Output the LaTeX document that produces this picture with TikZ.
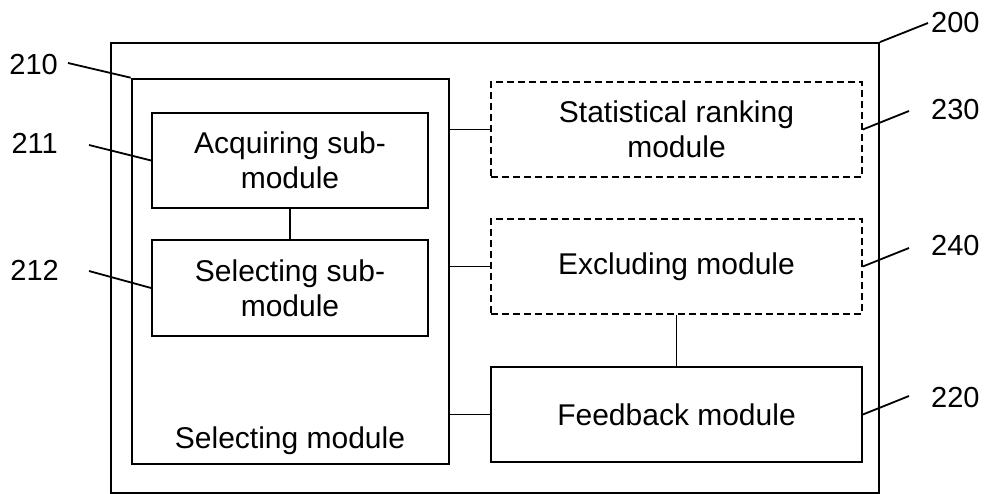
\documentclass[tikz,border=0pt]{standalone}
\usepackage{fontspec}
\setmainfont{Liberation Sans}
\begin{document}
\begin{tikzpicture}[x=1pt,y=-1pt,
  box/.style={draw,line width=1.8pt,rectangle,inner sep=0pt,align=center,
    font=\fontsize{30}{35}\selectfont},
  dbox/.style={box,line width=1.6pt,dash pattern=on 7pt off 4pt},
  lab/.style={inner sep=0pt,font=\fontsize{29}{34}\selectfont},
  lead/.style={line width=1.8pt},
  conn/.style={line width=1.8pt}]
\useasboundingbox (0,0) rectangle (987,494);
\node[box,minimum width=768,minimum height=450] (outer) at (495,268) {};
\node[box,line width=2.6pt,minimum width=317,minimum height=385] (sel) at (290.5,271.5) {};
\node[font=\fontsize{30}{35}\selectfont,inner sep=0pt] (seltxt) at (290,441) {Selecting module};
\node[box,minimum width=276,minimum height=95] (acq) at (290,160.5) {Acquiring sub-\\module};
\node[box,minimum width=276,minimum height=96] (selsub) at (290,288) {Selecting sub-\\module};
\node[dbox,minimum width=371,minimum height=95] (stat) at (676.5,129.5) {Statistical ranking\\module};
\node[dbox,minimum width=371,minimum height=95] (excl) at (676.5,266.5) {Excluding module};
\node[box,minimum width=371,minimum height=95] (feed) at (676.5,414.5) {Feedback module};
% connectors
\draw[conn] (acq.south) -- (selsub.north);
\draw[conn] (excl.south) -- (feed.north);
\draw[conn] (stat.west) -- (stat.west -| sel.east);
\draw[conn] (excl.west) -- (excl.west -| sel.east);
\draw[conn] (feed.west) -- (feed.west -| sel.east);
% labels
\node[lab,anchor=west] (l200) at (931,23) {200};
\node[lab,anchor=west] (l230) at (931,110) {230};
\node[lab,anchor=west] (l240) at (931,246) {240};
\node[lab,anchor=west] (l220) at (931,398) {220};
\node[lab,anchor=east] (l210) at (58,65) {210};
\node[lab,anchor=east] (l211) at (58,143) {211};
\node[lab,anchor=east] (l212) at (59,270) {212};
\coordinate (c200) at (928,23);
\coordinate (c230) at (909,111);
\coordinate (c240) at (909,248);
\coordinate (c220) at (909,396);
\coordinate (c210) at (68,63);
\coordinate (c211) at (89,145);
\coordinate (c212) at (89,271);
\draw[lead] (outer.north east) -- (c200);
\draw[lead] (stat.east) -- (c230);
\draw[lead] (excl.east) -- (c240);
\draw[lead] (feed.east) -- (c220);
\draw[lead] (c210) -- (sel.north west);
\draw[lead] (c211) -- (acq.west);
\draw[lead] (c212) -- (selsub.west);
\end{tikzpicture}
\end{document}
